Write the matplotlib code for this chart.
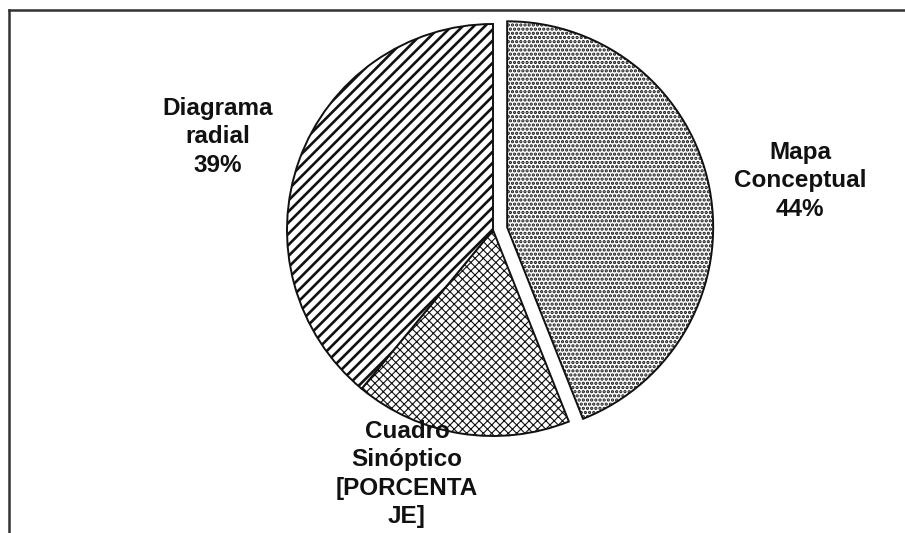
import numpy as np
import matplotlib
matplotlib.use("Agg")
import matplotlib.pyplot as plt
from matplotlib.lines import Line2D

# data
categories = ["Mapa\nConceptual", "Cuadro\nSinóptico", "Diagrama\nradial"]
values = [44, 17, 39]
pct_labels = ["44%", "[PORCENTA\nJE]", "39%"]
hatches = ["....", "xxxx", "///"]
hatch_lw = [1.6, 0.8, 1.9]
explode = [0.07, 0, 0]

plt.rcParams["font.family"] = ["Liberation Sans", "DejaVu Sans"]
plt.rcParams["hatch.linewidth"] = 1.3
plt.rcParams["hatch.color"] = "#222222"

W, H = 905, 533
fig = plt.figure(figsize=(W / 100, H / 100), dpi=100)

# pie centre and radius in pixels
cx, cy, r = 493, 230, 206
lim = 1.1
ax = fig.add_axes([(cx - lim * r) / W, (H - cy - lim * r) / H,
                   2 * lim * r / W, 2 * lim * r / H])

wedges, _ = ax.pie(values, explode=explode, startangle=90, counterclock=False,
                   colors=["white"] * 3,
                   wedgeprops=dict(edgecolor="#111111", linewidth=1.4))
for w, h, lw in zip(wedges, hatches, hatch_lw):
    w.set_hatch(h)
    if hasattr(w, "set_hatch_linewidth"):
        w.set_hatch_linewidth(lw)
ax.set_xlim(-lim, lim)
ax.set_ylim(-lim, lim)
ax.set_aspect("equal")
ax.axis("off")

# labels (positions in pixels)
label_pos = [(800, 181), (407, 474), (218, 137)]
for cat, pct, (x, y) in zip(categories, pct_labels, label_pos):
    fig.text(x / W, 1 - y / H, cat + "\n" + pct, ha="center", va="center",
             multialignment="center", fontsize=17.5, fontweight="bold",
             linespacing=1.3, color="#111111")

# frame of the original chart area
fig.add_artist(Line2D([9 / W, 1], [1 - 10 / H, 1 - 10 / H], color="#333333", lw=1.8))
fig.add_artist(Line2D([9 / W, 9 / W], [0, 1 - 10 / H], color="#333333", lw=1.8))

fig.savefig("out.png", dpi=100)
